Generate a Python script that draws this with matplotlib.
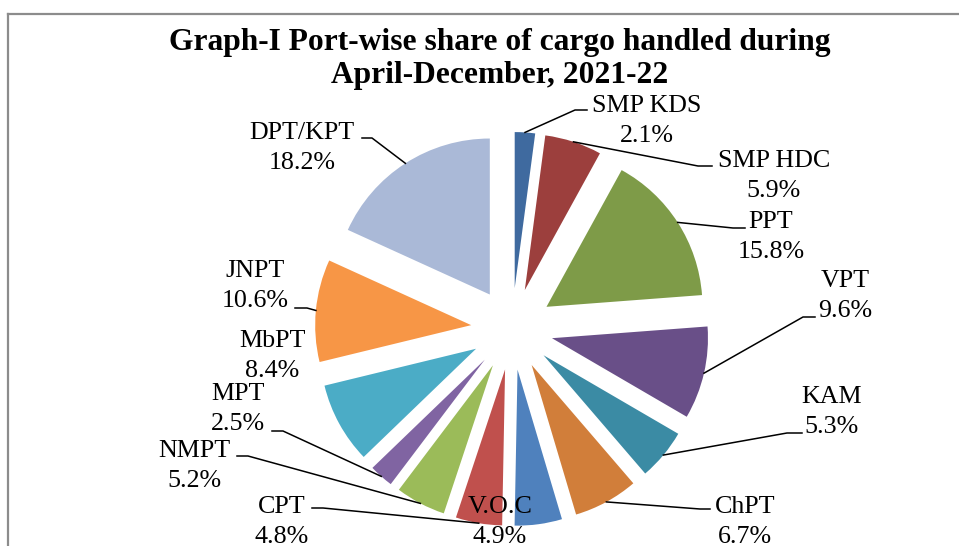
import numpy as np
import matplotlib
matplotlib.use("Agg")
import matplotlib.pyplot as plt
from matplotlib.lines import Line2D

plt.rcParams['font.family'] = ['Liberation Serif', 'DejaVu Serif']

# data
ports = ['SMP KDS', 'SMP HDC', 'PPT', 'VPT', 'KAM', 'ChPT', 'V.O.C',
         'CPT', 'NMPT', 'MPT', 'MbPT', 'JNPT', 'DPT/KPT']
shares = [2.1, 5.9, 15.8, 9.6, 5.3, 6.7, 4.9, 4.8, 5.2, 2.5, 8.4, 10.6, 18.2]
colors = ['#3f6a9f', '#9c3f3d', '#7e9b48', '#694f88', '#3b8ba4', '#d17e3a',
          '#4f81bd', '#c0504d', '#9bbb59', '#8064a2', '#4bacc6', '#f79646',
          '#aab9d7']

W, H = 959, 546

# label layout (pixel coords from top-left): centre x, first baseline y
label_pos = [(647, 112), (774, 167), (771, 228), (845, 287), (832, 403),
             (745, 513), (500, 513), (282, 513), (194, 457), (238, 400),
             (272, 347), (255, 277), (302, 139)]
# leader lines: text end and elbow, None = no leader
leaders = [((587, 110), (575, 110)), ((712, 166), (698, 166)),
           ((745, 228), (733, 228)), ((815, 317), (803, 317)),
           ((802, 433), (787, 433)), ((710, 509), (700, 509)),
           None,
           ((312, 508), (323, 508)), ((237, 456), (248, 456)),
           ((272, 431), (283, 431)), None,
           ((295, 308), (307, 308)), ((362, 138), (372, 138))]


def fy(y):
    return H - y


fig = plt.figure(figsize=(W / 100, H / 100), dpi=100)
ax = fig.add_axes([0, 0, 1, 1])

wedges, _ = ax.pie(shares, colors=colors, startangle=90, counterclock=False,
                   explode=[41] * len(shares), radius=156,
                   center=(512, fy(329)), frame=True,
                   wedgeprops=dict(linewidth=0))
ax.set_xlim(0, W)
ax.set_ylim(0, H)
ax.set_axis_off()

# frame of the chart area (top and left edges visible)
ax.add_line(Line2D([8, W], [fy(14), fy(14)], color='#8c8c8c', lw=1.6))
ax.add_line(Line2D([8, 8], [fy(14), 0], color='#8c8c8c', lw=1.6))

ax.text(500, fy(50), 'Graph-I Port-wise share of cargo handled during',
        ha='center', va='baseline', fontsize=22.7, fontweight='bold')
ax.text(500, fy(83), 'April-December, 2021-22',
        ha='center', va='baseline', fontsize=22.7, fontweight='bold')

for name, val, (x, y), w, ld in zip(ports, shares, label_pos, wedges, leaders):
    ax.text(x, fy(y), name, ha='center', va='baseline', fontsize=18.7)
    ax.text(x, fy(y + 30), f'{val}%', ha='center', va='baseline', fontsize=18.7)
    if ld is None:
        continue
    th = np.deg2rad((w.theta1 + w.theta2) / 2)
    px = w.center[0] + w.r * np.cos(th)
    py = w.center[1] + w.r * np.sin(th)
    (x0, y0), (x1, y1) = ld
    ax.add_line(Line2D([x0, x1, px], [fy(y0), fy(y1), py], color='black', lw=1.1))

fig.savefig('out.png', dpi=100)
